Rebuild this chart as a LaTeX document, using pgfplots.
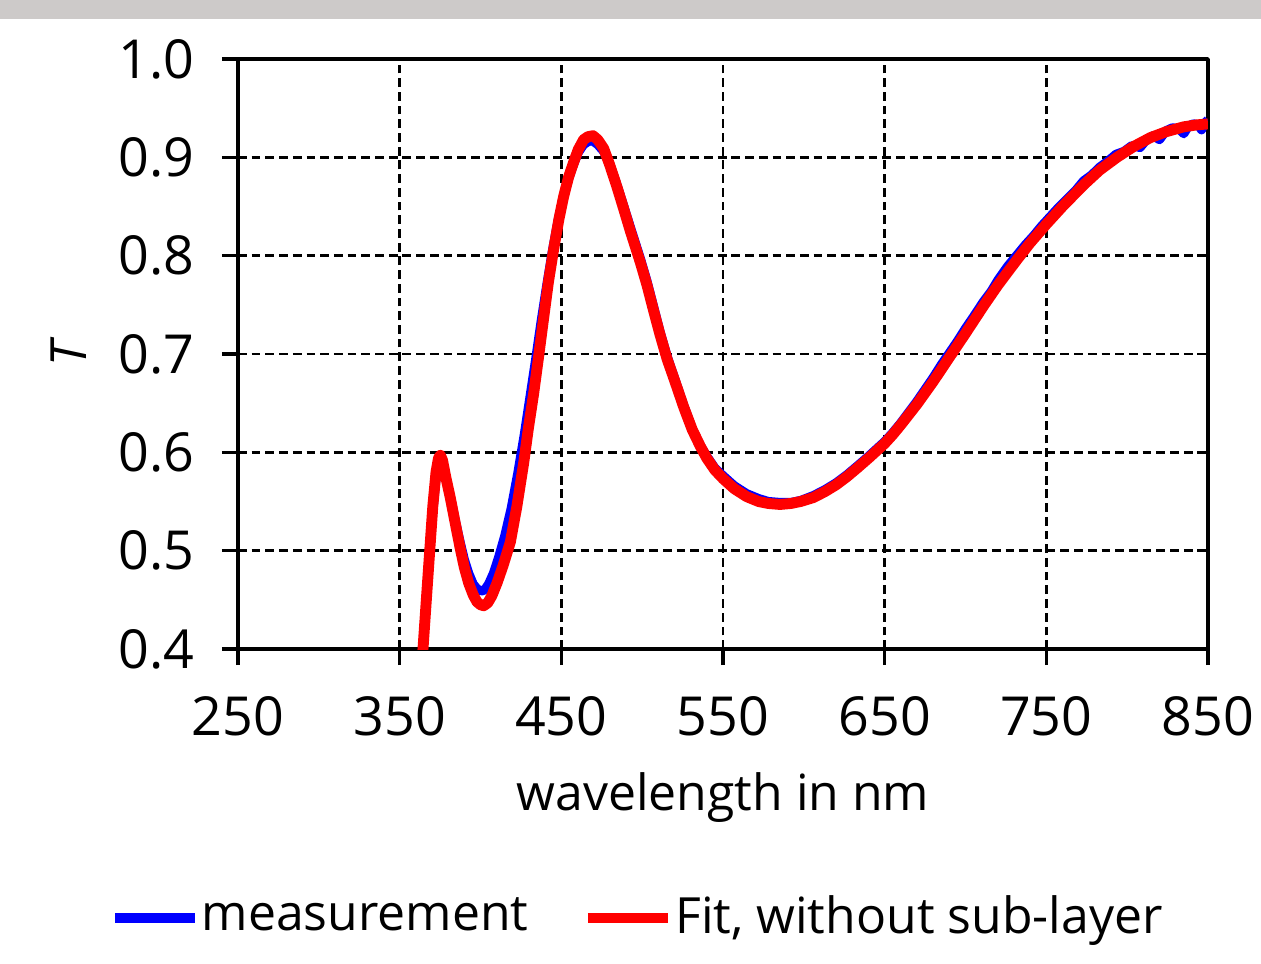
\documentclass[border=0pt]{standalone}
\usepackage{fontspec}
\setmainfont{Open Sans}
\usepackage{pgfplots}
\pgfplotsset{compat=1.18}

\definecolor{band}{RGB}{205,202,201}

\begin{document}
\fontsize{14.2}{17}\selectfont
\begin{tikzpicture}
\path[use as bounding box] (-2.38,-3.14) rectangle (10.23,6.49);
\fill[band] (-2.38,6.30) rectangle (10.23,6.49);
\begin{axis}[
    at={(0,0)}, anchor=south west,
    scale only axis,
    width=9.7cm, height=5.9cm,
    xmin=250, xmax=850, ymin=0.4, ymax=1.0,
    xtick={250,350,...,850},
    ytick={0.4,0.5,...,1.0},
    xtick pos=bottom, ytick pos=left,
    /pgf/number format/assume math mode=true,
    ticklabel style={font=\fontsize{15.3}{18}\selectfont},
    yticklabel style={xshift=-0.1cm, /pgf/number format/.cd, fixed, fixed zerofill, precision=1},
    xticklabel style={yshift=-0.14cm, /pgf/number format/1000 sep={}},
    tick align=outside,
    major tick length=0.16cm,
    axis line style={line width=1pt},
    major tick style={black, line width=1pt},
    grid=major,
    major grid style={black, line width=0.7pt, dash pattern=on 2.5pt off 1.4pt},
    xlabel={wavelength in nm},
    ylabel={\itshape T},
    xlabel style={at={(axis description cs:0.5,-0.252)}, anchor=center},
    ylabel style={at={(axis description cs:-0.175,0.5)}, anchor=center, rotate=0},
    legend columns=2,
    legend style={at={(axis description cs:-0.132,-0.456)}, anchor=west,
        draw=none, fill=none, inner sep=0pt,
        /tikz/every even column/.append style={column sep=0.52cm},
        nodes={inner sep=0.02cm}},
    legend image code/.code={\draw[#1] (0cm,0cm) -- (0.8cm,0cm);},
    line join=round,
]
\addplot[blue, line width=2.6pt] coordinates {
(363.6,0.38) (366.5,0.45) (368.6,0.50) (370.5,0.54) (372.5,0.574) (374.0,0.588)
(375.2,0.591) (376.5,0.588) (378.5,0.574) (381.3,0.555) (384.5,0.53) (387.5,0.508)
(390,0.491) (392.7,0.477) (395.5,0.466) (398,0.461) (400.5,0.459) (402.5,0.460)
(405,0.466) (408,0.477) (411,0.492) (415,0.515) (419,0.543) (423,0.578)
(427,0.617) (430.5,0.655) (434,0.693) (437.5,0.733) (441,0.770) (444.5,0.805)
(448,0.836) (451.4,0.860) (454.5,0.878) (457.6,0.893) (460.5,0.905) (463.8,0.913)
(466.5,0.916) (469.2,0.917) (472.5,0.913) (476.2,0.906) (480,0.893) (484.4,0.872)
(488.5,0.851) (492.7,0.829) (498.9,0.797) (503,0.774) (507.1,0.748) (511,0.723)
(515.4,0.698) (520.3,0.674) (525.7,0.648) (531,0.624) (536,0.607) (540,0.596)
(545,0.584) (550.2,0.576) (557,0.566) (564.6,0.558) (572,0.553) (578,0.550)
(585.3,0.549) (592,0.549) (598,0.551) (605.9,0.556) (613,0.562) (620,0.569)
(626.5,0.577) (633,0.586) (640,0.596) (646,0.605) (650,0.611) (655,0.620)
(660,0.630) (665,0.641) (670,0.652) (675,0.664) (680,0.676) (685,0.689)
(690,0.701) (695,0.713) (700,0.726) (705,0.738) (711,0.753) (716,0.764)
(720,0.775) (726,0.789) (732,0.801) (737,0.811) (742,0.820) (747,0.830)
(752,0.839) (757,0.848) (763,0.858) (768,0.866) (773,0.876) (778,0.882)
(783,0.890) (788,0.896) (793,0.903) (798,0.906) (803,0.912) (808,0.910)
(812,0.918) (816,0.922) (820,0.918) (824,0.927) (828,0.930) (832,0.929)
(835,0.924) (838,0.932) (841,0.934) (844,0.933) (846,0.928) (848,0.935)
(850,0.938)
};
\addlegendentry{measurement}
\addplot[red, line width=3.1pt] coordinates {
(363.6,0.38) (366.5,0.45) (368.6,0.50) (370.5,0.545) (372.5,0.58) (374.0,0.594)
(375.2,0.597) (376.5,0.592) (378.5,0.575) (381.3,0.554) (384.5,0.527) (387.5,0.502)
(390,0.483) (392.7,0.467) (395.5,0.455) (397.8,0.448) (400,0.445) (402,0.444)
(404.5,0.447) (407,0.454) (410.2,0.467) (414,0.485) (418.5,0.509) (422.5,0.545)
(426.7,0.589) (429.5,0.623) (432.9,0.66) (436,0.698) (439.1,0.737) (442,0.773)
(445.3,0.807) (448.5,0.837) (451.4,0.86) (454.5,0.88) (457.6,0.895) (460.5,0.908)
(463.8,0.918) (466.5,0.921) (469.6,0.922) (472.5,0.918) (476.2,0.909) (480,0.892)
(484.4,0.870) (488.5,0.848) (492.7,0.825) (498.9,0.793) (503,0.770) (507.1,0.744)
(511,0.720) (515.4,0.695) (520.3,0.672) (525.7,0.646) (531,0.623) (536,0.606)
(540,0.594) (545,0.582) (550.2,0.573) (557,0.563) (564.6,0.555) (572,0.550)
(578,0.548) (585.3,0.547) (592,0.548) (598,0.550) (605.9,0.554) (613,0.560)
(620,0.567) (626.5,0.575) (633,0.584) (640,0.594) (646,0.603) (650,0.609)
(655,0.618) (660,0.628) (670,0.649) (680,0.672) (690.6,0.698) (700,0.721)
(711.2,0.749) (720,0.770) (731.9,0.796) (740,0.813) (750,0.832) (760,0.850)
(773.1,0.872) (783,0.887) (793.7,0.900) (804,0.911) (814.3,0.920) (824,0.926)
(834.9,0.931) (843,0.933) (850,0.934)
};
\addlegendentry{Fit, without sub-layer}
\end{axis}
\end{tikzpicture}
\end{document}
